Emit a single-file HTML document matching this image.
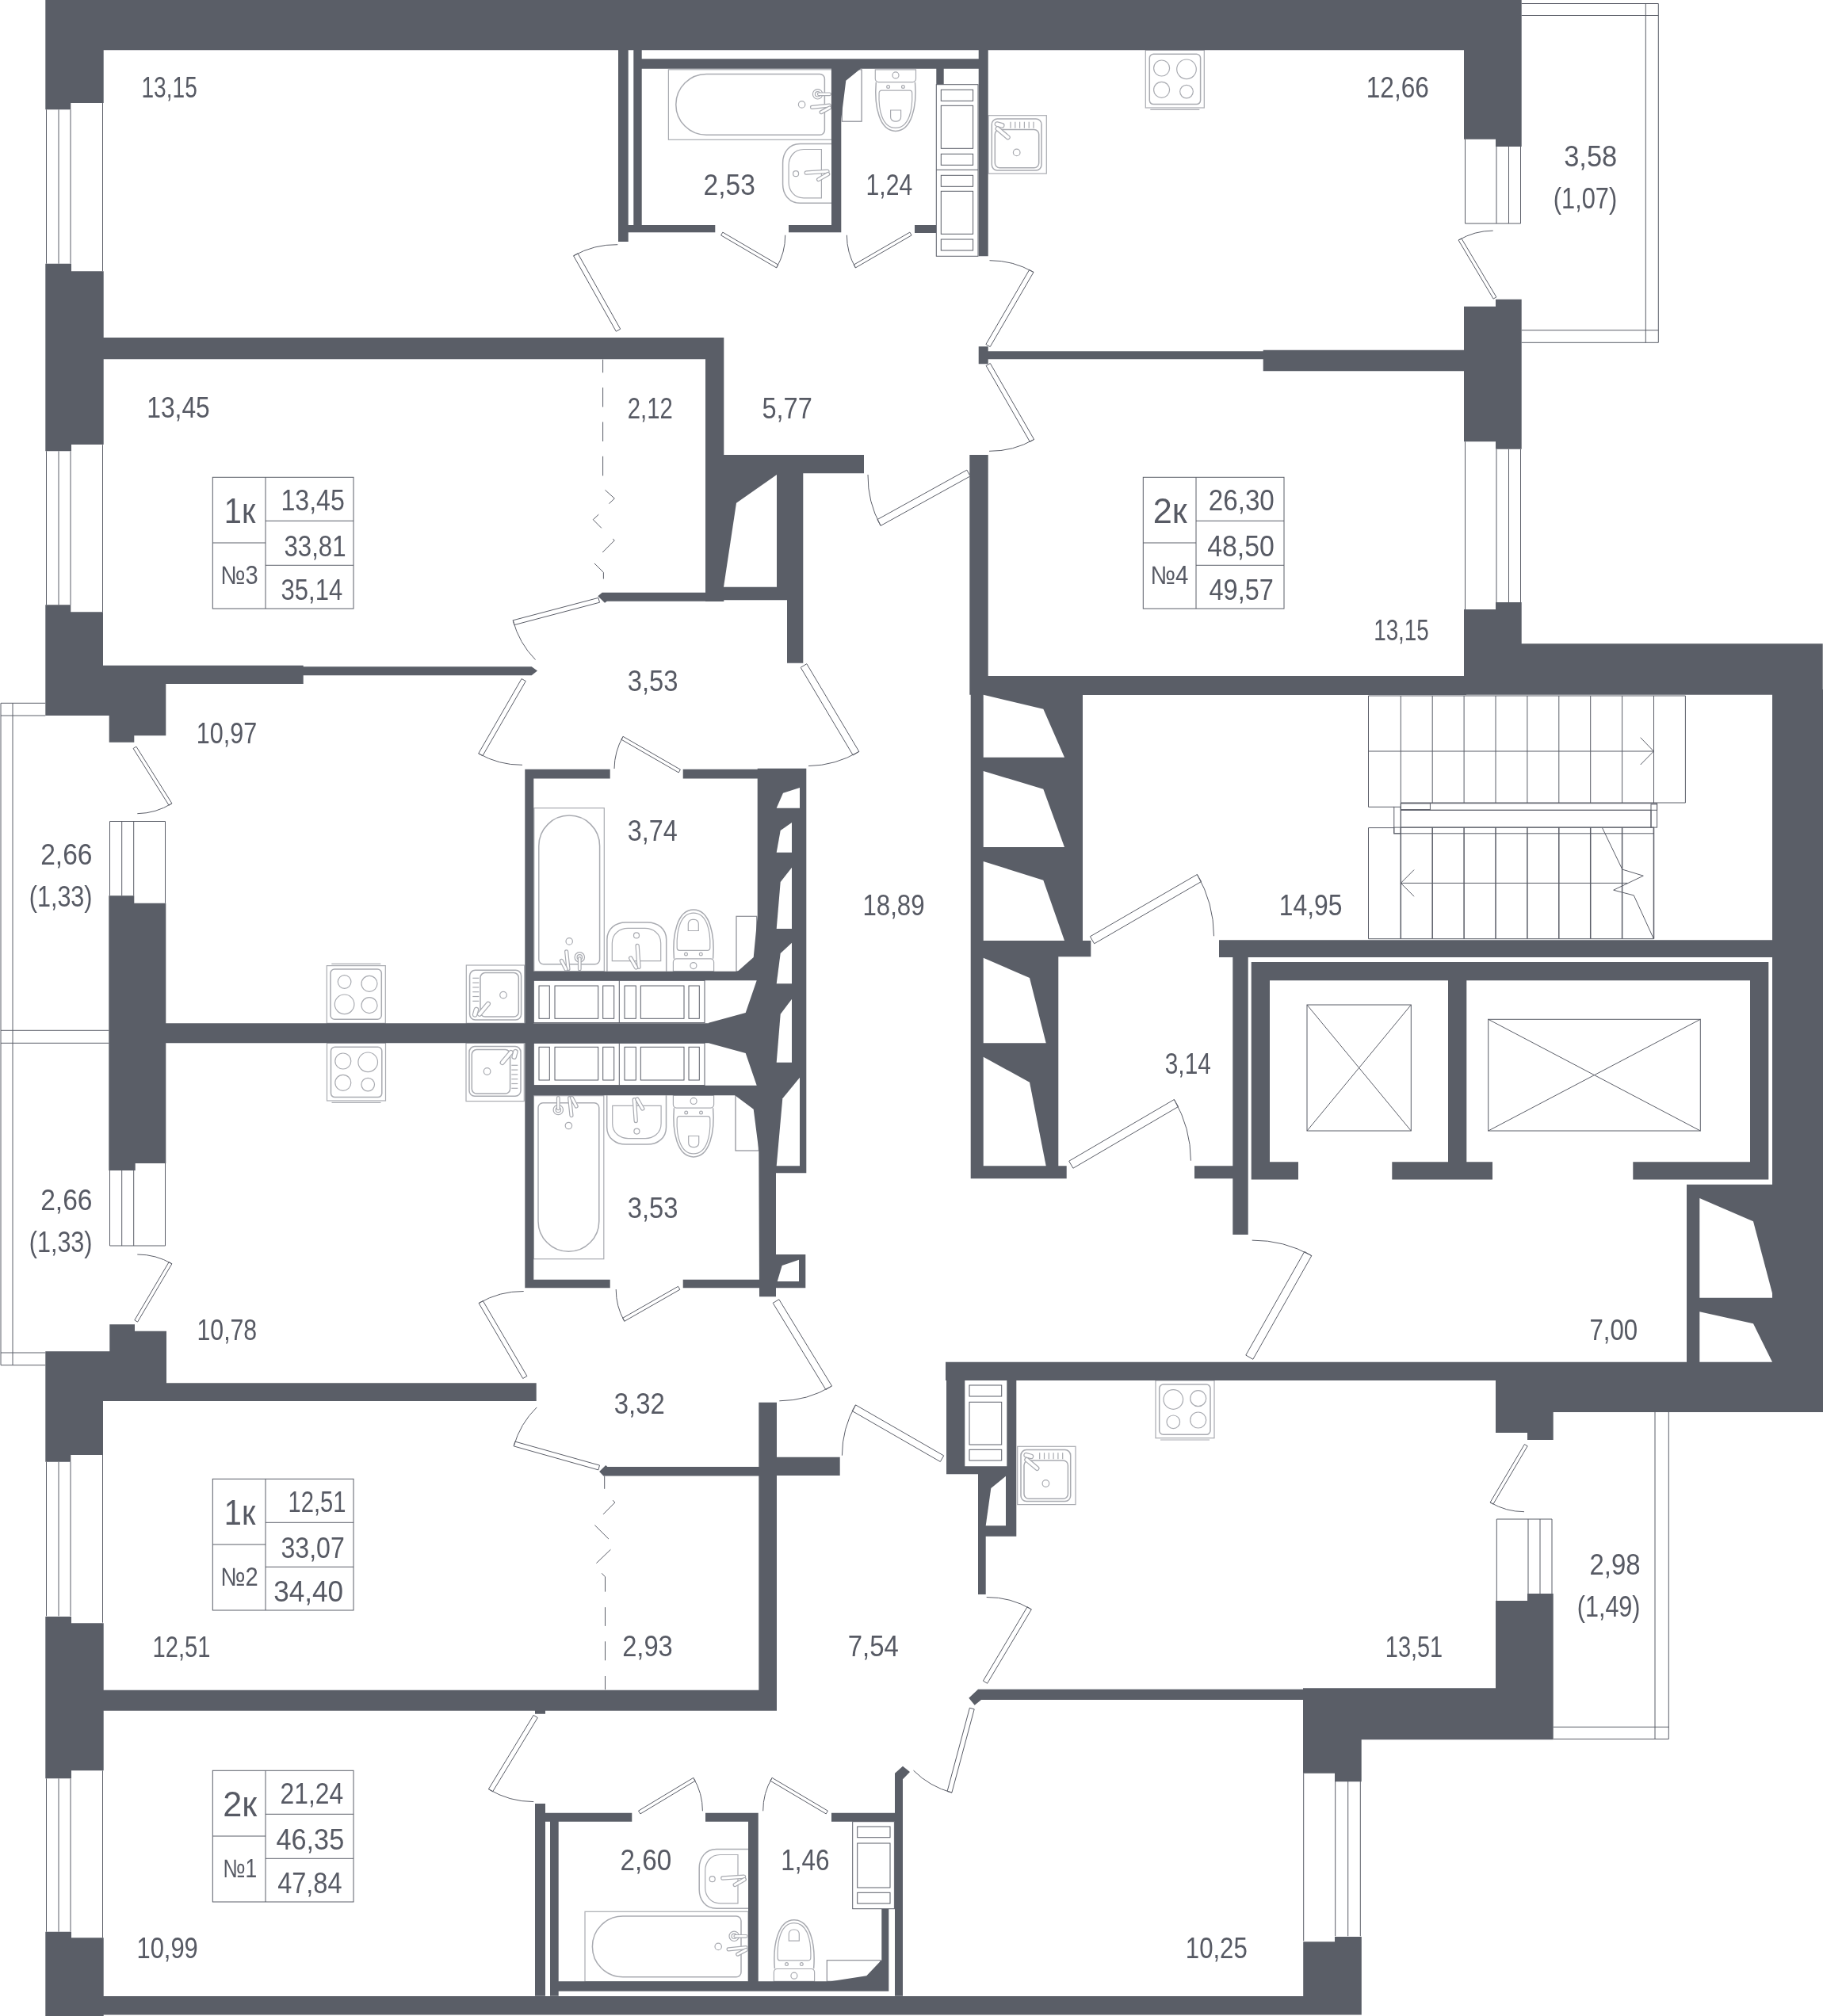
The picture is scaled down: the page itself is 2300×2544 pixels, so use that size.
<!DOCTYPE html>
<html lang="ru"><head><meta charset="utf-8"><title>План этажа</title>
<style>html,body{margin:0;padding:0;background:#fff}body{width:2300px;height:2544px;overflow:hidden}svg{display:block;will-change:transform}</style>
</head><body>
<svg width="2300" height="2544" viewBox="0 0 2300 2544">
<g id="fixtures" fill="none" stroke="#a9abb1" stroke-width="1.2">
<g transform="translate(843.4 87.8)"><rect x="0" y="0" width="206" height="88.5"/><path d="M47.8 5.7H191a6 6 0 0 1 6 6V76.5a6 6 0 0 1-6 6H47.8A38.4 38.4 0 0 1 47.8 5.7Z" stroke-width="1.5"/><circle cx="168.2" cy="44.1" r="4.2"/><circle cx="188.2" cy="31" r="6.2"/><circle cx="188.2" cy="31" r="3.2"/><rect x="188" y="29.2" width="17" height="3.6" rx="1.8" fill="#fff"/><rect x="179" y="44.5" width="26" height="4" rx="2" fill="#fff" transform="rotate(-6 192 46)"/><rect x="190" y="49" width="16" height="4" rx="2" fill="#fff" transform="rotate(-28 198 51)"/></g>
<g transform="translate(762.3 1019.7) rotate(90)"><rect x="0" y="0" width="206" height="88.5"/><path d="M47.8 5.7H191a6 6 0 0 1 6 6V76.5a6 6 0 0 1-6 6H47.8A38.4 38.4 0 0 1 47.8 5.7Z" stroke-width="1.5"/><circle cx="168.2" cy="44.1" r="4.2"/><circle cx="188.2" cy="31" r="6.2"/><circle cx="188.2" cy="31" r="3.2"/><rect x="188" y="29.2" width="17" height="3.6" rx="1.8" fill="#fff"/><rect x="179" y="44.5" width="26" height="4" rx="2" fill="#fff" transform="rotate(-6 192 46)"/><rect x="190" y="49" width="16" height="4" rx="2" fill="#fff" transform="rotate(-28 198 51)"/></g>
<g transform="translate(673.3 1588.7) rotate(-90)"><rect x="0" y="0" width="206" height="88.5"/><path d="M47.8 5.7H191a6 6 0 0 1 6 6V76.5a6 6 0 0 1-6 6H47.8A38.4 38.4 0 0 1 47.8 5.7Z" stroke-width="1.5"/><circle cx="168.2" cy="44.1" r="4.2"/><circle cx="188.2" cy="31" r="6.2"/><circle cx="188.2" cy="31" r="3.2"/><rect x="188" y="29.2" width="17" height="3.6" rx="1.8" fill="#fff"/><rect x="179" y="44.5" width="26" height="4" rx="2" fill="#fff" transform="rotate(-6 192 46)"/><rect x="190" y="49" width="16" height="4" rx="2" fill="#fff" transform="rotate(-28 198 51)"/></g>
<g transform="translate(738 2412.3)"><rect x="0" y="0" width="206" height="88.5"/><path d="M47.8 5.7H191a6 6 0 0 1 6 6V76.5a6 6 0 0 1-6 6H47.8A38.4 38.4 0 0 1 47.8 5.7Z" stroke-width="1.5"/><circle cx="168.2" cy="44.1" r="4.2"/><circle cx="188.2" cy="31" r="6.2"/><circle cx="188.2" cy="31" r="3.2"/><rect x="188" y="29.2" width="17" height="3.6" rx="1.8" fill="#fff"/><rect x="179" y="44.5" width="26" height="4" rx="2" fill="#fff" transform="rotate(-6 192 46)"/><rect x="190" y="49" width="16" height="4" rx="2" fill="#fff" transform="rotate(-28 198 51)"/></g>
<g transform="translate(987.6 181.5)"><path d="M61.8 0H21.7C8 0 0 11 0 24V51C0 64 8 74.8 21.7 74.8H61.8" stroke-width="1.5"/><path d="M48.8 7H26.4C14 7 7.5 17 7.5 27V48.5C7.5 58.5 14 68.4 26.4 68.4H48.8Z"/><circle cx="16.5" cy="37.7" r="3.5"/><rect x="27.5" y="33.5" width="31" height="4.2" rx="2.1" fill="#fff" transform="rotate(-4 43 35.5)"/><rect x="42" y="39.5" width="18" height="4.2" rx="2.1" fill="#fff" transform="rotate(-30 51 41.5)"/></g>
<g transform="translate(840.7 1163.9) rotate(90)"><path d="M61.8 0H21.7C8 0 0 11 0 24V51C0 64 8 74.8 21.7 74.8H61.8" stroke-width="1.5"/><path d="M48.8 7H26.4C14 7 7.5 17 7.5 27V48.5C7.5 58.5 14 68.4 26.4 68.4H48.8Z"/><circle cx="16.5" cy="37.7" r="3.5"/><rect x="27.5" y="33.5" width="31" height="4.2" rx="2.1" fill="#fff" transform="rotate(-4 43 35.5)"/><rect x="42" y="39.5" width="18" height="4.2" rx="2.1" fill="#fff" transform="rotate(-30 51 41.5)"/></g>
<g transform="translate(765.7 1444.1) rotate(-90)"><path d="M61.8 0H21.7C8 0 0 11 0 24V51C0 64 8 74.8 21.7 74.8H61.8" stroke-width="1.5"/><path d="M48.8 7H26.4C14 7 7.5 17 7.5 27V48.5C7.5 58.5 14 68.4 26.4 68.4H48.8Z"/><circle cx="16.5" cy="37.7" r="3.5"/><rect x="27.5" y="33.5" width="31" height="4.2" rx="2.1" fill="#fff" transform="rotate(-4 43 35.5)"/><rect x="42" y="39.5" width="18" height="4.2" rx="2.1" fill="#fff" transform="rotate(-30 51 41.5)"/></g>
<g transform="translate(882.2 2333.5)"><path d="M61.8 0H21.7C8 0 0 11 0 24V51C0 64 8 74.8 21.7 74.8H61.8" stroke-width="1.5"/><path d="M48.8 7H26.4C14 7 7.5 17 7.5 27V48.5C7.5 58.5 14 68.4 26.4 68.4H48.8Z"/><circle cx="16.5" cy="37.7" r="3.5"/><rect x="27.5" y="33.5" width="31" height="4.2" rx="2.1" fill="#fff" transform="rotate(-4 43 35.5)"/><rect x="42" y="39.5" width="18" height="4.2" rx="2.1" fill="#fff" transform="rotate(-30 51 41.5)"/></g>
<g transform="translate(1104.3 87.8)"><path d="M0 0H51.2V11.8a4 4 0 0 1-4 4H4a4 4 0 0 1-4-4Z"/><path d="M1 16C-1.5 46 5 77.6 25.6 77.6C46.2 77.6 52.7 46 50.2 16" stroke-width="1.5"/><path d="M8 26.4H43.4a3 3 0 0 1 3 3C47.4 52 42 73.6 25.6 73.6C9.2 73.6 3.8 52 4.8 29.4a3 3 0 0 1 3.2-3Z"/><circle cx="16.3" cy="21.7" r="1.9"/><circle cx="35.1" cy="21.7" r="1.9"/><circle cx="25.7" cy="7.1" r="4"/><path d="M19.3 51.2H32.3V60a5.3 5.3 0 0 1-5.3 5.3H24.6A5.3 5.3 0 0 1 19.3 60Z"/></g>
<g transform="translate(900.6 1225.7) rotate(180)"><path d="M0 0H51.2V11.8a4 4 0 0 1-4 4H4a4 4 0 0 1-4-4Z"/><path d="M1 16C-1.5 46 5 77.6 25.6 77.6C46.2 77.6 52.7 46 50.2 16" stroke-width="1.5"/><path d="M8 26.4H43.4a3 3 0 0 1 3 3C47.4 52 42 73.6 25.6 73.6C9.2 73.6 3.8 52 4.8 29.4a3 3 0 0 1 3.2-3Z"/><circle cx="16.3" cy="21.7" r="1.9"/><circle cx="35.1" cy="21.7" r="1.9"/><circle cx="25.7" cy="7.1" r="4"/><path d="M19.3 51.2H32.3V60a5.3 5.3 0 0 1-5.3 5.3H24.6A5.3 5.3 0 0 1 19.3 60Z"/></g>
<g transform="translate(849.4 1382.3)"><path d="M0 0H51.2V11.8a4 4 0 0 1-4 4H4a4 4 0 0 1-4-4Z"/><path d="M1 16C-1.5 46 5 77.6 25.6 77.6C46.2 77.6 52.7 46 50.2 16" stroke-width="1.5"/><path d="M8 26.4H43.4a3 3 0 0 1 3 3C47.4 52 42 73.6 25.6 73.6C9.2 73.6 3.8 52 4.8 29.4a3 3 0 0 1 3.2-3Z"/><circle cx="16.3" cy="21.7" r="1.9"/><circle cx="35.1" cy="21.7" r="1.9"/><circle cx="25.7" cy="7.1" r="4"/><path d="M19.3 51.2H32.3V60a5.3 5.3 0 0 1-5.3 5.3H24.6A5.3 5.3 0 0 1 19.3 60Z"/></g>
<g transform="translate(1027.6 2500.3) rotate(180)"><path d="M0 0H51.2V11.8a4 4 0 0 1-4 4H4a4 4 0 0 1-4-4Z"/><path d="M1 16C-1.5 46 5 77.6 25.6 77.6C46.2 77.6 52.7 46 50.2 16" stroke-width="1.5"/><path d="M8 26.4H43.4a3 3 0 0 1 3 3C47.4 52 42 73.6 25.6 73.6C9.2 73.6 3.8 52 4.8 29.4a3 3 0 0 1 3.2-3Z"/><circle cx="16.3" cy="21.7" r="1.9"/><circle cx="35.1" cy="21.7" r="1.9"/><circle cx="25.7" cy="7.1" r="4"/><path d="M19.3 51.2H32.3V60a5.3 5.3 0 0 1-5.3 5.3H24.6A5.3 5.3 0 0 1 19.3 60Z"/></g>
<g transform="translate(1445.3 63.3)"><rect x="0" y="0" width="74" height="72.7"/><rect x="5" y="5" width="64.3" height="63.3" rx="5" stroke-width="1.5"/><line x1="6" y1="75" x2="68" y2="75"/><circle cx="20.3" cy="22.7" r="10"/><circle cx="51.7" cy="24" r="12.3"/><circle cx="20.3" cy="50" r="10"/><circle cx="51.7" cy="52.3" r="8.3"/></g>
<g transform="translate(486.3 1291.3) rotate(180)"><rect x="0" y="0" width="74" height="72.7"/><rect x="5" y="5" width="64.3" height="63.3" rx="5" stroke-width="1.5"/><line x1="6" y1="75" x2="68" y2="75"/><circle cx="20.3" cy="22.7" r="10"/><circle cx="51.7" cy="24" r="12.3"/><circle cx="20.3" cy="50" r="10"/><circle cx="51.7" cy="52.3" r="8.3"/></g>
<g transform="translate(412.5 1316.3)"><rect x="0" y="0" width="74" height="72.7"/><rect x="5" y="5" width="64.3" height="63.3" rx="5" stroke-width="1.5"/><line x1="6" y1="75" x2="68" y2="75"/><circle cx="20.3" cy="22.7" r="10"/><circle cx="51.7" cy="24" r="12.3"/><circle cx="20.3" cy="50" r="10"/><circle cx="51.7" cy="52.3" r="8.3"/></g>
<g transform="translate(1532 1742) scale(-1 1)"><rect x="0" y="0" width="74" height="72.7"/><rect x="5" y="5" width="64.3" height="63.3" rx="5" stroke-width="1.5"/><line x1="6" y1="75" x2="68" y2="75"/><circle cx="20.3" cy="22.7" r="10"/><circle cx="51.7" cy="24" r="12.3"/><circle cx="20.3" cy="50" r="10"/><circle cx="51.7" cy="52.3" r="8.3"/></g>
<g transform="translate(1247 145.7)"><rect x="0" y="0" width="73.3" height="73.3"/><rect x="4.3" y="4.3" width="62.7" height="65" rx="7" stroke-width="1.5"/><rect x="8.3" y="17.7" width="55.4" height="48.3" rx="6" stroke-width="1.5"/><circle cx="35.7" cy="46.7" r="4.3"/><line x1="28" y1="8" x2="28" y2="16"/><line x1="33.8" y1="8" x2="33.8" y2="16"/><line x1="39.6" y1="8" x2="39.6" y2="16"/><line x1="45.4" y1="8" x2="45.4" y2="16"/><line x1="51.2" y1="8" x2="51.2" y2="16"/><line x1="57" y1="8" x2="57" y2="16"/><rect x="8" y="9" width="12" height="5.5" rx="2.7" fill="#fff" transform="rotate(15 14 12)"/><rect x="9" y="14.5" width="22" height="5" rx="2.5" fill="#fff" transform="rotate(40 12 17)"/></g>
<g transform="translate(588.3 1291.3) rotate(-90)"><rect x="0" y="0" width="73.3" height="73.3"/><rect x="4.3" y="4.3" width="62.7" height="65" rx="7" stroke-width="1.5"/><rect x="8.3" y="17.7" width="55.4" height="48.3" rx="6" stroke-width="1.5"/><circle cx="35.7" cy="46.7" r="4.3"/><line x1="28" y1="8" x2="28" y2="16"/><line x1="33.8" y1="8" x2="33.8" y2="16"/><line x1="39.6" y1="8" x2="39.6" y2="16"/><line x1="45.4" y1="8" x2="45.4" y2="16"/><line x1="51.2" y1="8" x2="51.2" y2="16"/><line x1="57" y1="8" x2="57" y2="16"/><rect x="8" y="9" width="12" height="5.5" rx="2.7" fill="#fff" transform="rotate(15 14 12)"/><rect x="9" y="14.5" width="22" height="5" rx="2.5" fill="#fff" transform="rotate(40 12 17)"/></g>
<g transform="translate(661.3 1316.3) rotate(90)"><rect x="0" y="0" width="73.3" height="73.3"/><rect x="4.3" y="4.3" width="62.7" height="65" rx="7" stroke-width="1.5"/><rect x="8.3" y="17.7" width="55.4" height="48.3" rx="6" stroke-width="1.5"/><circle cx="35.7" cy="46.7" r="4.3"/><line x1="28" y1="8" x2="28" y2="16"/><line x1="33.8" y1="8" x2="33.8" y2="16"/><line x1="39.6" y1="8" x2="39.6" y2="16"/><line x1="45.4" y1="8" x2="45.4" y2="16"/><line x1="51.2" y1="8" x2="51.2" y2="16"/><line x1="57" y1="8" x2="57" y2="16"/><rect x="8" y="9" width="12" height="5.5" rx="2.7" fill="#fff" transform="rotate(15 14 12)"/><rect x="9" y="14.5" width="22" height="5" rx="2.5" fill="#fff" transform="rotate(40 12 17)"/></g>
<g transform="translate(1283.7 1825.3)"><rect x="0" y="0" width="73.3" height="73.3"/><rect x="4.3" y="4.3" width="62.7" height="65" rx="7" stroke-width="1.5"/><rect x="8.3" y="17.7" width="55.4" height="48.3" rx="6" stroke-width="1.5"/><circle cx="35.7" cy="46.7" r="4.3"/><line x1="28" y1="8" x2="28" y2="16"/><line x1="33.8" y1="8" x2="33.8" y2="16"/><line x1="39.6" y1="8" x2="39.6" y2="16"/><line x1="45.4" y1="8" x2="45.4" y2="16"/><line x1="51.2" y1="8" x2="51.2" y2="16"/><line x1="57" y1="8" x2="57" y2="16"/><rect x="8" y="9" width="12" height="5.5" rx="2.7" fill="#fff" transform="rotate(15 14 12)"/><rect x="9" y="14.5" width="22" height="5" rx="2.5" fill="#fff" transform="rotate(40 12 17)"/></g>
<rect x="1062.3" y="87.8" width="24.8" height="65.4" stroke="#8a8c94"/>
<rect x="929" y="1156.3" width="25.7" height="69.4" stroke="#8a8c94"/>
<rect x="928" y="1382.3" width="29.3" height="69.7" stroke="#8a8c94"/>
<rect x="1043.3" y="2473.7" width="67.4" height="26.6" stroke="#8a8c94"/>
</g>
<g id="walls">
<path d="M57.3 0 1919.7 0 1919.7 63.3 57.3 63.3ZM57.3 63.3 130.7 63.3 130.7 130 89.3 130 89.3 138.3 57.3 138.3ZM57.3 332.7 90 332.7 90 342.3 130.7 342.3 130.7 561 90 561 90 569.3 57.3 569.3ZM130.7 426 913.3 426 913.3 453.3 130.7 453.3ZM890 426 913.3 426 913.3 759 890 759ZM913.3 574 1090 574 1090 597.3 913.3 597.3ZM913.3 597.3 1013.3 597.3 1013.3 836.7 993 836.7 993 757.3 913.3 757.3ZM754.3 752.3 759.7 747.7 890.2 747.7 890.2 758.7 765.8 758.7 763 760.8ZM57.3 763.3 89.3 763.3 89.3 772.3 130 772.3 130 839.7 382.7 839.7 382.7 863 209.3 863 209.3 928.3 169.3 928.3 169.3 936.7 137.7 936.7 137.7 903 57.3 903ZM382 841.3 670.7 841.3 678 846.5 670.7 852.3 382 852.3ZM780 63.3 792.7 63.3 792.7 284 902.3 284 902.3 293.3 792.7 293.3 792.7 305 780 305ZM799.3 63.3 809.7 63.3 809.7 284 799.3 284ZM799.3 74.3 1246.7 74.3 1246.7 86.7 799.3 86.7ZM995 284 1061.3 284 1061.3 293.3 995 293.3ZM1049 86.7 1085.7 86.7 1067.3 101.7 1061.3 150 1061.3 293.3 1049 293.3ZM1181.3 86.7 1190.7 86.7 1190.7 106.7 1181.3 106.7ZM1154 284 1181.3 284 1181.3 294 1154 294ZM1234.7 63.3 1246.7 63.3 1246.7 323.3 1234.7 323.3ZM1234.7 437.3 1246.7 437.3 1246.7 443.3 1593.7 443.3 1593.7 453.3 1246.7 453.3 1246.7 459.3 1234.7 459.3ZM1593.7 441.7 1847 441.7 1847 468.3 1593.7 468.3ZM1847 0 1919.7 0 1919.7 185 1887 185 1887 175.7 1847 175.7ZM1887 377.7 1919.7 377.7 1919.7 566.7 1887 566.7 1887 557.3 1847 557.3 1847 386.7 1887 386.7ZM1887 760 1919.7 760 1919.7 812.3 2299.7 812.3 2299.7 876.7 1847 876.7 1847 769 1887 769ZM2236 870 2300 870 2300 1500 2236 1500ZM1240 852.9 1850 852.9 1850 877.1 1240 877.1ZM1223.3 574 1246.7 574 1246.7 876.7 1223.3 876.7ZM1224.7 874.7 1366 874.7 1366 1187 1376.3 1187 1376.3 1207.3 1335.3 1207.3 1335.3 1471.3 1345.7 1471.3 1345.7 1487.3 1224.7 1487.3ZM1538 1186.3 2236 1186.3 2236 1208 1538 1208ZM1555.3 1207.3 1574.7 1207.3 1574.7 1558 1555.3 1558ZM1507 1471.3 1555.3 1471.3 1555.3 1487.3 1507 1487.3ZM1578.7 1214 2231.3 1214 2231.3 1237.3 1578.7 1237.3ZM1578.7 1214 1602 1214 1602 1488.5 1578.7 1488.5ZM1578.7 1466.3 1638 1466.3 1638 1488.5 1578.7 1488.5ZM1827 1237 1850.3 1237 1850.3 1467 1827 1467ZM1756.3 1466.3 1883 1466.3 1883 1488.5 1756.3 1488.5ZM2208 1214 2231.3 1214 2231.3 1488.5 2208 1488.5ZM2060.3 1466.3 2231.3 1466.3 2231.3 1488.5 2060.3 1488.5ZM2128 1494.7 2300 1494.7 2300 1782 2128 1782ZM1193 1718.7 2300 1718.7 2300 1742 1193 1742ZM1887 1718.7 2300 1718.7 2300 1782 1887 1782ZM1887 1742 1959.7 1742 1959.7 1817 1927 1817 1927 1808 1887 1808ZM1194 1718.7 1217.3 1718.7 1217.3 1850.3 1270.3 1850.3 1270.3 1742 1282.3 1742 1282.3 1938.7 1243.7 1938.7 1243.7 2012 1234 2012 1234 1860.3 1194 1860.3ZM1927 2011 1959.7 2011 1959.7 2195.3 1717.7 2195.3 1717.7 2248.3 1684 2248.3 1684 2237.7 1644 2237.7 1644 2130.3 1887 2130.3 1887 2020 1927 2020ZM1644.2 2450.3 1684 2450.3 1684 2444.1 1717.8 2444.1 1717.8 2542.5 1644.2 2542.5ZM1222.3 2142.7 1234 2131.7 1644 2131.7 1644 2145 1238 2145 1229.7 2151.7ZM57.3 2519 1717.7 2519 1717.7 2542.5 57.3 2542.5ZM138.3 1671.3 170 1671.3 170 1679.7 210 1679.7 210 1745.3 338 1745.3 338 1768 130 1768 130 1836 89.3 1836 89.3 1844.7 57.3 1844.7 57.3 1705.3 138.3 1705.3ZM200 1745.3 676.7 1745.3 676.7 1768 200 1768ZM57.3 2040 90 2040 90 2048.3 130.7 2048.3 130.7 2234.3 90 2234.3 90 2244.3 57.3 2244.3ZM57.3 2437.7 90 2437.7 90 2445.3 130.7 2445.3 130.7 2544.3 57.3 2544.3ZM130.7 2132.7 980 2132.7 980 2158.7 130.7 2158.7ZM675 2158.7 688 2158.7 688 2162.7 675 2162.7ZM137.3 1130.3 169.3 1130.3 169.3 1139.7 209.3 1139.7 209.3 1468 170.7 1468 170.7 1477 137.3 1477ZM209 1291.3 900 1291.3 900 1316.3 209 1316.3ZM662.3 970.7 673.3 970.7 673.3 1625.3 662.3 1625.3ZM662.3 970.7 769.7 970.7 769.7 982.5 662.3 982.5ZM861.7 970.7 960 970.7 960 982.5 861.7 982.5ZM662.3 1614.7 769.7 1614.7 769.7 1625.3 662.3 1625.3ZM861.7 1614.7 960 1614.7 960 1625.3 861.7 1625.3ZM673 1225.7 960 1225.7 960 1237.3 673 1237.3ZM673 1369.7 960 1369.7 960 1382.3 673 1382.3ZM955.7 969.7 1017.3 969.7 1017.3 1480.3 979 1480.3 979 1636.3 958 1636.3 957.3 1451.3 950.7 1399.7 927.3 1382.3 927.3 1369.7 954.7 1369.7 940.7 1329 894 1316.3 894 1290.7 940.7 1278 954.7 1237.3 930.7 1237.3 930.7 1225.7 950.7 1208 955.7 1156.3ZM979 1583 1016.3 1583 1016.3 1625.3 979 1625.3ZM957.3 1769.7 980 1769.7 980 2158.7 957.3 2158.7ZM980 1838.7 1059.7 1838.7 1059.7 1862 980 1862ZM756.1 1856.9 764.3 1849 766.3 1851.1 958 1851.1 958 1862.6 761.4 1862.6ZM675 2276 688 2276 688 2287.7 797.3 2287.7 797.3 2298.7 688 2298.7 688 2518.7 675 2518.7ZM694 2298.7 704.7 2298.7 704.7 2518.7 694 2518.7ZM890 2287.7 956.7 2287.7 956.7 2500.3 944 2500.3 944 2298.7 890 2298.7ZM704.7 2500.3 1121.3 2500.3 1121.3 2512.7 704.7 2512.7ZM1049 2287.7 1129 2287.7 1129 2298.7 1049 2298.7ZM1129 2237.7 1139 2228.7 1148 2236 1139 2245.3 1139 2518.7 1129 2518.7ZM1112.3 2408.7 1121.3 2408.7 1121.3 2512.7 1112.3 2512.7ZM1093.3 2493.3 1112.3 2473.3 1112.3 2501 1043.3 2501Z" fill="#5a5e67" fill-rule="nonzero"/>
<polygon points="980,599 929,634.7 913,740.7 980,740.7" fill="#fff"/>
<polygon points="1240.7,876.7 1316.3,894.7 1343,955.7 1240.7,955.7" fill="#fff"/>
<polygon points="1240.7,973 1316.3,995.7 1343,1069 1240.7,1069" fill="#fff"/>
<polygon points="1240.7,1087 1316.3,1110.7 1343,1187 1240.7,1187" fill="#fff"/>
<polygon points="1240.7,1208.7 1299,1234 1319.7,1316.3 1240.7,1316.3" fill="#fff"/>
<polygon points="1240.7,1333.7 1299,1365.7 1319.7,1471.3 1240.7,1471.3" fill="#fff"/>
<polygon points="2144.3,1512 2212,1541.3 2236,1632 2236,1637.7 2144.3,1637.7" fill="#fff"/>
<polygon points="2144.3,1655.3 2212,1670.3 2236,1718.7 2144.3,1718.7" fill="#fff"/>
<polygon points="1269,1862.7 1250.3,1878 1243.7,1925.3 1269,1925.3" fill="#fff"/>
<polygon points="1009,994 988,1000.7 979.7,1019.7 1009,1019.7" fill="#fff"/>
<polygon points="999,1038 984.7,1048 979.7,1075.7 999,1075.7" fill="#fff"/>
<polygon points="999,1094.7 984.7,1113 979.7,1172 999,1172" fill="#fff"/>
<polygon points="999,1189.7 984.7,1203 979.7,1241.3 999,1241.3" fill="#fff"/>
<polygon points="999,1260.7 984.7,1279.7 979.7,1340.7 999,1340.7" fill="#fff"/>
<polygon points="1009,1359.7 987.3,1386.3 979.7,1471.3 1009,1471.3" fill="#fff"/>
<polygon points="1008,1589.7 986.7,1597 980.7,1617 1008,1617" fill="#fff"/>
</g>
<g id="lines" fill="none" stroke="#5b5e68" stroke-width="1">
<line x1="58.5" y1="138.3" x2="58.5" y2="332.7"/>
<line x1="74" y1="138.3" x2="74" y2="332.7"/>
<line x1="89" y1="138.3" x2="89" y2="332.7"/>
<line x1="129.5" y1="130" x2="129.5" y2="342.3"/>
<line x1="58.5" y1="569.3" x2="58.5" y2="763.3"/>
<line x1="74" y1="569.3" x2="74" y2="763.3"/>
<line x1="89" y1="569.3" x2="89" y2="763.3"/>
<line x1="129.5" y1="561.3" x2="129.5" y2="772.3"/>
<line x1="58.5" y1="1844.7" x2="58.5" y2="2039.3"/>
<line x1="74" y1="1844.7" x2="74" y2="2039.3"/>
<line x1="89" y1="1844.7" x2="89" y2="2039.3"/>
<line x1="129.5" y1="1836" x2="129.5" y2="2047.7"/>
<line x1="58.5" y1="2244.3" x2="58.5" y2="2437.7"/>
<line x1="74" y1="2244.3" x2="74" y2="2437.7"/>
<line x1="89" y1="2244.3" x2="89" y2="2437.7"/>
<line x1="129.5" y1="2234.3" x2="129.5" y2="2445.3"/>
<line x1="138.5" y1="1036.5" x2="138.5" y2="1130.3"/>
<line x1="153.7" y1="1036.5" x2="153.7" y2="1130.3"/>
<line x1="168.7" y1="1036.5" x2="168.7" y2="1130.3"/>
<line x1="208.5" y1="1036.5" x2="208.5" y2="1139.7"/>
<line x1="138.5" y1="1036.5" x2="208.5" y2="1036.5"/>
<line x1="138.5" y1="1477" x2="138.5" y2="1572"/>
<line x1="153.7" y1="1477" x2="153.7" y2="1572"/>
<line x1="168.7" y1="1477" x2="168.7" y2="1572"/>
<line x1="208.5" y1="1468" x2="208.5" y2="1572"/>
<line x1="138.5" y1="1572" x2="208.5" y2="1572"/>
<line x1="1848.5" y1="175.7" x2="1848.5" y2="282"/>
<line x1="1888" y1="185" x2="1888" y2="282"/>
<line x1="1903.5" y1="185" x2="1903.5" y2="282"/>
<line x1="1918.5" y1="185" x2="1918.5" y2="282"/>
<line x1="1848.5" y1="282" x2="1918.5" y2="282"/>
<line x1="1848.5" y1="557.3" x2="1848.5" y2="769"/>
<line x1="1888" y1="567" x2="1888" y2="760"/>
<line x1="1903.5" y1="567" x2="1903.5" y2="760"/>
<line x1="1918.5" y1="567" x2="1918.5" y2="760"/>
<line x1="1644.7" y1="2237.7" x2="1644.7" y2="2449.3"/>
<line x1="1684.7" y1="2247.7" x2="1684.7" y2="2443.3"/>
<line x1="1700.7" y1="2247.7" x2="1700.7" y2="2443.3"/>
<line x1="1716.3" y1="2247.7" x2="1716.3" y2="2443.3"/>
<line x1="1888.3" y1="1917" x2="1888.3" y2="2020"/>
<line x1="1928" y1="1917" x2="1928" y2="2011"/>
<line x1="1943" y1="1917" x2="1943" y2="2011"/>
<line x1="1958" y1="1917" x2="1958" y2="2011"/>
<line x1="1888.3" y1="1917" x2="1958" y2="1917"/>
<line x1="1919.7" y1="4.5" x2="2092.3" y2="4.5"/>
<line x1="2092.3" y1="4.5" x2="2092.3" y2="432.3"/>
<line x1="1919.7" y1="432.3" x2="2092.3" y2="432.3"/>
<line x1="2076.3" y1="4.5" x2="2076.3" y2="432.3"/>
<line x1="1919.7" y1="19.5" x2="2092.3" y2="19.5"/>
<line x1="1919.7" y1="416.7" x2="2092.3" y2="416.7"/>
<line x1="1" y1="887.3" x2="1" y2="1722.7"/>
<line x1="16" y1="887.3" x2="16" y2="1722.7"/>
<line x1="1" y1="887.3" x2="57.3" y2="887.3"/>
<line x1="1" y1="903" x2="57.3" y2="903"/>
<line x1="1" y1="1300.3" x2="137.3" y2="1300.3"/>
<line x1="1" y1="1316.3" x2="137.3" y2="1316.3"/>
<line x1="1" y1="1707" x2="57.3" y2="1707"/>
<line x1="1" y1="1722.7" x2="57.3" y2="1722.7"/>
<line x1="2088" y1="1782" x2="2088" y2="2194.5"/>
<line x1="2105.3" y1="1782" x2="2105.3" y2="2194.5"/>
<line x1="1959.7" y1="2179.3" x2="2105.3" y2="2179.3"/>
<line x1="1959.7" y1="2194.5" x2="2105.3" y2="2194.5"/>
<polygon points="1249.2,437.6 1304,343.5 1298.7,340.4 1243.9,434.5" fill="#fff"/>
<path d="M1304 343.5A108.9 108.9 0 0 0 1248.5 328.7"/>
<polygon points="1249.3,458.5 1304.6,554.5 1299.4,557.5 1244.1,461.5" fill="#fff"/>
<path d="M1304.6 554.5A110.8 110.8 0 0 1 1248 569.3"/>
<polygon points="1884.1,377.1 1840.1,303.1 1843.9,300.9 1887.9,374.9" fill="#fff"/>
<path d="M1840.1 303.1A86.1 86.1 0 0 1 1883.7 291.1"/>
<polygon points="777.3,418.2 723.6,322.8 729,319.8 782.7,415.2" fill="#fff"/>
<path d="M723.6 322.8A109.5 109.5 0 0 1 779.3 308.7"/>
<polygon points="909.6,296.9 979.6,337.9 981.8,334.1 911.8,293.1" fill="#fff"/>
<path d="M979.6 337.9A81.1 81.1 0 0 0 990.7 296.7"/>
<polygon points="1150.1,296.9 1079.4,337.9 1077.2,334.1 1147.9,293.1" fill="#fff"/>
<path d="M1079.4 337.9A81.7 81.7 0 0 1 1068.4 296.7"/>
<polygon points="1224.1,600.9 1111.1,663.4 1106.9,655.6 1219.9,593.1" fill="#fff"/>
<path d="M1111.1 663.4A129.1 129.1 0 0 1 1095 599"/>
<polygon points="754.9,754.4 647.2,782.8 648.8,788.6 756.5,760.2" fill="#fff"/>
<path d="M647.2 782.8A111.4 111.4 0 0 0 675.5 832.5"/>
<polygon points="658.1,856.5 603.7,950.8 608.9,953.8 663.3,859.5" fill="#fff"/>
<path d="M603.7 950.8A108.9 108.9 0 0 0 659 965.3"/>
<polygon points="858.4,971.1 786.1,929.4 783.9,933.2 856.2,974.9" fill="#fff"/>
<path d="M786.1 929.4A83.5 83.5 0 0 0 775 970"/>
<polygon points="1017.8,837.7 1083.8,948.4 1076.2,953 1010.2,842.3" fill="#fff"/>
<path d="M1083.8 948.4A128.9 128.9 0 0 1 1020 966.6"/>
<polygon points="171.9,942.1 216.9,1013.8 213.1,1016.2 168.1,944.5" fill="#fff"/>
<path d="M216.9 1013.8A84.7 84.7 0 0 1 173.3 1026.7"/>
<polygon points="173.6,1668.1 216.9,1594.8 213.1,1592.6 169.8,1665.9" fill="#fff"/>
<path d="M216.9 1594.8A85.1 85.1 0 0 0 173.3 1583"/>
<polygon points="659.7,1739.5 604.1,1644.5 609.3,1641.5 664.9,1736.5" fill="#fff"/>
<path d="M604.1 1644.5A110.1 110.1 0 0 1 660.7 1629.5"/>
<polygon points="857.8,1627.3 787.8,1667.3 785.6,1663.3 855.6,1623.3" fill="#fff"/>
<path d="M787.8 1667.3A80.6 80.6 0 0 1 777.2 1627"/>
<polygon points="982.8,1639.7 1049.5,1749 1041.9,1753.6 975.2,1644.3" fill="#fff"/>
<path d="M1049.5 1749A128 128 0 0 1 983.3 1767.8"/>
<polygon points="754.9,1854.9 648.2,1824.9 649.8,1819.1 756.5,1849.1" fill="#fff"/>
<path d="M648.2 1824.9A110.8 110.8 0 0 1 677.2 1775.9"/>
<polygon points="1190.7,1836.9 1079.5,1772.9 1075.1,1780.5 1186.3,1844.5" fill="#fff"/>
<path d="M1079.5 1772.9A128.3 128.3 0 0 0 1062.4 1836.7"/>
<polygon points="1375.4,1181.8 1510.4,1103.5 1515.6,1112.5 1380.6,1190.8" fill="#fff"/>
<path d="M1510.4 1103.5A156.1 156.1 0 0 1 1531.5 1181.3"/>
<polygon points="1348.7,1465.2 1481.4,1387.5 1486.6,1396.5 1353.9,1474.2" fill="#fff"/>
<path d="M1481.4 1387.5A153.8 153.8 0 0 1 1502.4 1464.7"/>
<polygon points="1580.8,1715.3 1654.8,1584.6 1645.8,1579.4 1571.8,1710.1" fill="#fff"/>
<path d="M1654.8 1584.6A150.2 150.2 0 0 0 1579.7 1565.1"/>
<polygon points="1923.4,1822.6 1880.1,1895.9 1883.9,1898.1 1927.2,1824.8" fill="#fff"/>
<path d="M1880.1 1895.9A85.1 85.1 0 0 0 1923 1907.7"/>
<polygon points="673.1,2164.4 616.4,2257.7 621.6,2260.9 678.3,2167.6" fill="#fff"/>
<path d="M616.4 2257.7A109.2 109.2 0 0 0 673.3 2273.6"/>
<polygon points="805.5,2285.1 874.8,2243.4 877.2,2247.2 807.9,2288.9" fill="#fff"/>
<path d="M874.8 2243.4A80.9 80.9 0 0 1 886.4 2285.3"/>
<polygon points="1044.4,2285.1 974.1,2243.4 971.9,2247.2 1042.2,2288.9" fill="#fff"/>
<path d="M974.1 2243.4A81.7 81.7 0 0 0 962.7 2285.3"/>
<polygon points="1245.6,2124.3 1301.3,2030.9 1296.1,2027.7 1240.4,2121.1" fill="#fff"/>
<path d="M1301.3 2030.9A108.7 108.7 0 0 0 1244.7 2015.5"/>
<polygon points="1229.2,2156.8 1200.9,2262.1 1195.1,2260.5 1223.4,2155.2" fill="#fff"/>
<path d="M1200.9 2262.1A109 109 0 0 1 1152.5 2234.2"/>
<line x1="1726.5" y1="878" x2="1726.5" y2="1018.3"/>
<line x1="1767.3" y1="878" x2="1767.3" y2="1013"/>
<line x1="1807.2" y1="878" x2="1807.2" y2="1013"/>
<line x1="1847.1" y1="878" x2="1847.1" y2="1013"/>
<line x1="1887" y1="878" x2="1887" y2="1013"/>
<line x1="1926.9" y1="878" x2="1926.9" y2="1013"/>
<line x1="1966.8" y1="878" x2="1966.8" y2="1013"/>
<line x1="2006.7" y1="878" x2="2006.7" y2="1013"/>
<line x1="2046.6" y1="878" x2="2046.6" y2="1013"/>
<line x1="2086.5" y1="878" x2="2086.5" y2="1013"/>
<line x1="2126.4" y1="878" x2="2126.4" y2="1013"/>
<line x1="1726.5" y1="878" x2="2126.4" y2="878"/>
<line x1="1767.3" y1="1013" x2="2126.4" y2="1013"/>
<line x1="1726.5" y1="1018.3" x2="1758.8" y2="1018.3"/>
<line x1="1726.5" y1="948" x2="2086.5" y2="948"/>
<polyline points="2069.7,930.7 2086.4,948 2069.7,965"/>
<line x1="1726.5" y1="1044.6" x2="1726.5" y2="1184.7"/>
<line x1="1767.3" y1="1044.1" x2="1767.3" y2="1184.7" stroke-width="1.5"/>
<line x1="1807.2" y1="1044.1" x2="1807.2" y2="1184.7" stroke-width="1.5"/>
<line x1="1847.1" y1="1044.1" x2="1847.1" y2="1184.7" stroke-width="1.5"/>
<line x1="1887" y1="1044.1" x2="1887" y2="1184.7" stroke-width="1.5"/>
<line x1="1926.9" y1="1044.1" x2="1926.9" y2="1184.7" stroke-width="1.5"/>
<line x1="1966.8" y1="1044.1" x2="1966.8" y2="1184.7" stroke-width="1.5"/>
<line x1="2006.7" y1="1044.1" x2="2006.7" y2="1184.7" stroke-width="1.5"/>
<line x1="2046.6" y1="1044.1" x2="2046.6" y2="1184.7" stroke-width="1.5"/>
<line x1="2086.5" y1="1044.1" x2="2086.5" y2="1184.7" stroke-width="1.5"/>
<line x1="1726.5" y1="1184.7" x2="2086.5" y2="1184.7"/>
<line x1="1726.5" y1="1044.6" x2="1758.8" y2="1044.6"/>
<line x1="1767.3" y1="1114.4" x2="2053.7" y2="1114.4"/>
<polyline points="1784.1,1097.6 1767.3,1114.4 1784.1,1131.2"/>
<polyline points="2021.5,1044.6 2046.8,1097.1 2073.3,1105.2 2035.7,1123.2 2061.3,1129.9 2086.4,1184.7"/>
<rect x="1767.3" y="1013.7" width="323.3" height="8.6"/>
<rect x="1767.3" y="1013.7" width="37.1" height="7.9"/>
<rect x="1767.3" y="1022.3" width="315.7" height="21.8"/>
<rect x="2083" y="1014.9" width="7.6" height="29.2"/>
<rect x="1758.8" y="1018.3" width="8.5" height="33.5"/>
<rect x="1758.8" y="1044.1" width="327.6" height="7.7"/>
<rect x="1649" y="1268" width="131.3" height="159"/>
<line x1="1649" y1="1268" x2="1780.3" y2="1427"/>
<line x1="1649" y1="1427" x2="1780.3" y2="1268"/>
<rect x="1877.7" y="1286.3" width="267.6" height="140.7"/>
<line x1="1877.7" y1="1286.3" x2="2145.3" y2="1427"/>
<line x1="1877.7" y1="1427" x2="2145.3" y2="1286.3"/>
<rect x="1181.3" y="106.7" width="52.7" height="216.6" fill="#fff"/>
<line x1="1181.3" y1="214.3" x2="1234" y2="214.3"/>
<rect x="1187.3" y="113.3" width="40.3" height="14"/>
<rect x="1187.3" y="133.3" width="40.3" height="54"/>
<rect x="1187.3" y="194.3" width="40.3" height="14"/>
<rect x="1187.3" y="221.3" width="40.3" height="14"/>
<rect x="1187.3" y="241.3" width="40.3" height="54"/>
<rect x="1187.3" y="302" width="40.3" height="14"/>
<rect x="1223" y="1748" width="40.7" height="14"/>
<rect x="1223" y="1769.3" width="40.7" height="53.7"/>
<rect x="1223" y="1829.3" width="40.7" height="13.7"/>
<rect x="1075.7" y="2298.7" width="52.7" height="110" fill="#fff"/>
<rect x="1081.7" y="2305" width="41.3" height="13.7"/>
<rect x="1081.7" y="2326" width="41.3" height="56"/>
<rect x="1081.7" y="2388.3" width="41.3" height="13.7"/>
<rect x="673.3" y="1237.3" width="215.7" height="53.3"/>
<line x1="781.3" y1="1237.3" x2="781.3" y2="1290.7"/>
<rect x="680" y="1244" width="13.3" height="41.3"/>
<rect x="700" y="1244" width="54.7" height="41.3"/>
<rect x="760.7" y="1244" width="14" height="41.3"/>
<rect x="788" y="1244" width="14.3" height="41.3"/>
<rect x="808.3" y="1244" width="54.7" height="41.3"/>
<rect x="869" y="1244" width="13.3" height="41.3"/>
<rect x="673.3" y="1316.3" width="215.7" height="53.3"/>
<line x1="781.3" y1="1316.3" x2="781.3" y2="1369.7"/>
<rect x="680" y="1321.3" width="13.3" height="41.7"/>
<rect x="700" y="1321.3" width="54.7" height="41.7"/>
<rect x="760.7" y="1321.3" width="14" height="41.7"/>
<rect x="788" y="1321.3" width="14.3" height="41.7"/>
<rect x="808.3" y="1321.3" width="54.7" height="41.7"/>
<rect x="869" y="1321.3" width="13.3" height="41.7"/>
<line x1="760.6" y1="453.6" x2="760.6" y2="470.3"/>
<line x1="760.6" y1="489.1" x2="760.6" y2="513.6"/>
<line x1="760.6" y1="532.5" x2="760.6" y2="557"/>
<line x1="760.6" y1="575.8" x2="760.6" y2="600.4"/>
<polyline points="763.5,618.4 775.3,629 768.4,635.6"/>
<polyline points="755.3,649.2 748.3,655.7 758.9,666.4"/>
<polyline points="773.2,680.1 775.3,681.9 760.2,697"/>
<polyline points="749.9,710.9 761.4,722.3 761.4,730.5"/>
<line x1="762.7" y1="1862.6" x2="762.7" y2="1878.8"/>
<polyline points="773.2,1893.2 775.8,1896 761,1910.9"/>
<polyline points="750.4,1924.6 767.9,1942"/>
<polyline points="770.4,1955.4 752.4,1972.6"/>
<polyline points="759.2,1985.3 763.5,1989.8 763.5,2008.6"/>
<line x1="763.5" y1="2028.2" x2="763.5" y2="2051.9"/>
<line x1="763.5" y1="2071.3" x2="763.5" y2="2095.3"/>
<line x1="763.5" y1="2115" x2="763.5" y2="2132.1"/>
<rect x="268.3" y="602.3" width="177.7" height="165.7"/>
<line x1="335" y1="602.3" x2="335" y2="768"/>
<line x1="268.3" y1="685" x2="335" y2="685"/>
<line x1="335" y1="657.3" x2="446" y2="657.3"/>
<line x1="335" y1="713.3" x2="446" y2="713.3"/>
<rect x="1442.3" y="602.3" width="177.7" height="165.7"/>
<line x1="1509" y1="602.3" x2="1509" y2="768"/>
<line x1="1442.3" y1="685" x2="1509" y2="685"/>
<line x1="1509" y1="657.3" x2="1620" y2="657.3"/>
<line x1="1509" y1="713.3" x2="1620" y2="713.3"/>
<rect x="268.3" y="1866.3" width="177.7" height="165.7"/>
<line x1="335" y1="1866.3" x2="335" y2="2032"/>
<line x1="268.3" y1="1949" x2="335" y2="1949"/>
<line x1="335" y1="1921.3" x2="446" y2="1921.3"/>
<line x1="335" y1="1977.3" x2="446" y2="1977.3"/>
<rect x="268.3" y="2234.3" width="177.7" height="165.7"/>
<line x1="335" y1="2234.3" x2="335" y2="2400"/>
<line x1="268.3" y1="2317" x2="335" y2="2317"/>
<line x1="335" y1="2289.3" x2="446" y2="2289.3"/>
<line x1="335" y1="2345.3" x2="446" y2="2345.3"/>
</g>
<g id="texts" opacity="0.999" fill="#575a64" font-family="'Liberation Sans', sans-serif">
<text x="178.5" y="123.3" font-size="37.3" textLength="70.3" lengthAdjust="spacingAndGlyphs">13,15</text>
<text x="887.5" y="246" font-size="37.3" textLength="65.3" lengthAdjust="spacingAndGlyphs">2,53</text>
<text x="1092.5" y="246" font-size="37.3" textLength="58.7" lengthAdjust="spacingAndGlyphs">1,24</text>
<text x="1723.8" y="123.3" font-size="37.3" textLength="79" lengthAdjust="spacingAndGlyphs">12,66</text>
<text x="1973.2" y="210" font-size="37.3" textLength="67" lengthAdjust="spacingAndGlyphs">3,58</text>
<text x="1959.8" y="263.3" font-size="37.3" textLength="80.4" lengthAdjust="spacingAndGlyphs">(1,07)</text>
<text x="185.2" y="527.3" font-size="37.3" textLength="79.6" lengthAdjust="spacingAndGlyphs">13,45</text>
<text x="791.8" y="527.7" font-size="37.3" textLength="57" lengthAdjust="spacingAndGlyphs">2,12</text>
<text x="961.5" y="527.7" font-size="37.3" textLength="63.3" lengthAdjust="spacingAndGlyphs">5,77</text>
<text x="1733.2" y="808" font-size="37.3" textLength="69.6" lengthAdjust="spacingAndGlyphs">13,15</text>
<text x="247.8" y="938" font-size="37.3" textLength="76.4" lengthAdjust="spacingAndGlyphs">10,97</text>
<text x="791.8" y="872.3" font-size="37.3" textLength="63.7" lengthAdjust="spacingAndGlyphs">3,53</text>
<text x="791.8" y="1060.7" font-size="37.3" textLength="63" lengthAdjust="spacingAndGlyphs">3,74</text>
<text x="1088.5" y="1154.7" font-size="37.3" textLength="78" lengthAdjust="spacingAndGlyphs">18,89</text>
<text x="1613.8" y="1154.7" font-size="37.3" textLength="79.7" lengthAdjust="spacingAndGlyphs">14,95</text>
<text x="51.2" y="1091.3" font-size="37.3" textLength="65.3" lengthAdjust="spacingAndGlyphs">2,66</text>
<text x="36.8" y="1144" font-size="37.3" textLength="79.7" lengthAdjust="spacingAndGlyphs">(1,33)</text>
<text x="1469.8" y="1354.7" font-size="37.3" textLength="58" lengthAdjust="spacingAndGlyphs">3,14</text>
<text x="51.2" y="1527" font-size="37.3" textLength="65.3" lengthAdjust="spacingAndGlyphs">2,66</text>
<text x="36.8" y="1580" font-size="37.3" textLength="79.7" lengthAdjust="spacingAndGlyphs">(1,33)</text>
<text x="791.8" y="1537" font-size="37.3" textLength="63.7" lengthAdjust="spacingAndGlyphs">3,53</text>
<text x="248.5" y="1691" font-size="37.3" textLength="75.7" lengthAdjust="spacingAndGlyphs">10,78</text>
<text x="2005.5" y="1691" font-size="37.3" textLength="60.7" lengthAdjust="spacingAndGlyphs">7,00</text>
<text x="774.8" y="1783.7" font-size="37.3" textLength="64" lengthAdjust="spacingAndGlyphs">3,32</text>
<text x="2005.5" y="1987" font-size="37.3" textLength="64" lengthAdjust="spacingAndGlyphs">2,98</text>
<text x="1989.8" y="2040.3" font-size="37.3" textLength="79.7" lengthAdjust="spacingAndGlyphs">(1,49)</text>
<text x="192.5" y="2091" font-size="37.3" textLength="73" lengthAdjust="spacingAndGlyphs">12,51</text>
<text x="785.2" y="2090.3" font-size="37.3" textLength="63.6" lengthAdjust="spacingAndGlyphs">2,93</text>
<text x="1069.8" y="2090.3" font-size="37.3" textLength="64" lengthAdjust="spacingAndGlyphs">7,54</text>
<text x="1747.8" y="2091" font-size="37.3" textLength="72.4" lengthAdjust="spacingAndGlyphs">13,51</text>
<text x="782.5" y="2360" font-size="37.3" textLength="64.7" lengthAdjust="spacingAndGlyphs">2,60</text>
<text x="985.2" y="2360" font-size="37.3" textLength="61.3" lengthAdjust="spacingAndGlyphs">1,46</text>
<text x="172.5" y="2471" font-size="37.3" textLength="77.3" lengthAdjust="spacingAndGlyphs">10,99</text>
<text x="1495.8" y="2471" font-size="37.3" textLength="78" lengthAdjust="spacingAndGlyphs">10,25</text>
<text x="282.8" y="659.9" font-size="44" textLength="39.5" lengthAdjust="spacingAndGlyphs">1к</text>
<text x="278.3" y="737.3" font-size="32.5" textLength="47.5" lengthAdjust="spacingAndGlyphs">№3</text>
<text x="354.5" y="644" font-size="37.3" textLength="80.3" lengthAdjust="spacingAndGlyphs">13,45</text>
<text x="358.5" y="702.1" font-size="37.3" textLength="78" lengthAdjust="spacingAndGlyphs">33,81</text>
<text x="354.5" y="757.3" font-size="37.3" textLength="77.7" lengthAdjust="spacingAndGlyphs">35,14</text>
<text x="1454.8" y="659.9" font-size="44" textLength="43" lengthAdjust="spacingAndGlyphs">2к</text>
<text x="1451.5" y="737.3" font-size="32.5" textLength="48" lengthAdjust="spacingAndGlyphs">№4</text>
<text x="1524.8" y="644" font-size="37.3" textLength="83" lengthAdjust="spacingAndGlyphs">26,30</text>
<text x="1523.2" y="702.1" font-size="37.3" textLength="84.6" lengthAdjust="spacingAndGlyphs">48,50</text>
<text x="1525.5" y="757.3" font-size="37.3" textLength="81.3" lengthAdjust="spacingAndGlyphs">49,57</text>
<text x="282.8" y="1923.9" font-size="44" textLength="39.5" lengthAdjust="spacingAndGlyphs">1к</text>
<text x="278.3" y="2001.3" font-size="32.5" textLength="47.5" lengthAdjust="spacingAndGlyphs">№2</text>
<text x="363.5" y="1908" font-size="37.3" textLength="73" lengthAdjust="spacingAndGlyphs">12,51</text>
<text x="354.5" y="1966.1" font-size="37.3" textLength="80.3" lengthAdjust="spacingAndGlyphs">33,07</text>
<text x="345.2" y="2021.3" font-size="37.3" textLength="88" lengthAdjust="spacingAndGlyphs">34,40</text>
<text x="281.2" y="2291.9" font-size="44" textLength="43" lengthAdjust="spacingAndGlyphs">2к</text>
<text x="281.2" y="2369.3" font-size="32.5" textLength="43" lengthAdjust="spacingAndGlyphs">№1</text>
<text x="353.5" y="2276" font-size="37.3" textLength="79.7" lengthAdjust="spacingAndGlyphs">21,24</text>
<text x="348.5" y="2334.1" font-size="37.3" textLength="85.7" lengthAdjust="spacingAndGlyphs">46,35</text>
<text x="350.2" y="2389.3" font-size="37.3" textLength="81.3" lengthAdjust="spacingAndGlyphs">47,84</text>
</g>
</svg>
</body></html>
